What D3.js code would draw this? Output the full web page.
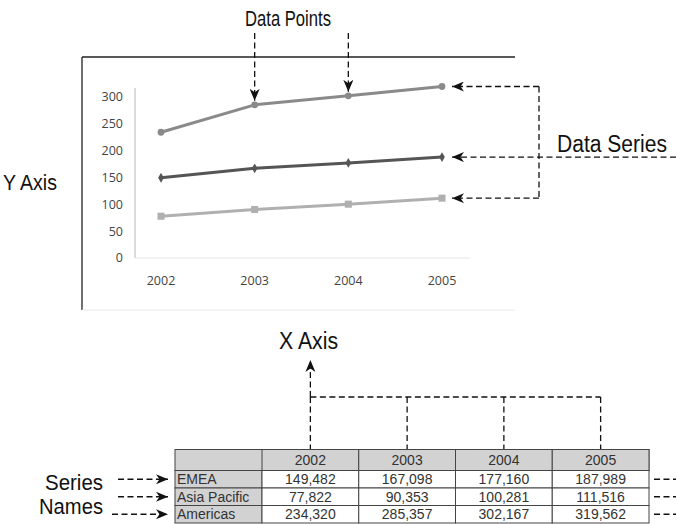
<!DOCTYPE html>
<meta charset="utf-8">
<head>
  <title>Chart parts</title>
</head>
<style>
body { margin: 0; background: #fff; }
.note { font-family: "Liberation Sans", Arial, sans-serif; font-size: 20px; fill: #111; }
.tick-lbl { font-family: "Open Sans", sans-serif; font-size: 12.5px; fill: #444; }
.cell { font-family: "Liberation Sans", Arial, sans-serif; font-size: 14px; fill: #333; }
.dash { fill: none; stroke: #111; stroke-width: 1.3px; stroke-dasharray: 6,3.5; }
</style>
<body>
<script src="https://cdnjs.cloudflare.com/ajax/libs/d3/7.8.5/d3.min.js"></script>
<script>
// data, thousands in the chart, full numbers in the table
var years = [2002, 2003, 2004, 2005]
var seriesNames = ["EMEA", "Asia Pacific", "Americas"]
var emea = [149482, 167098, 177160, 187989]
var asiaPacific = [77822, 90353, 100281, 111516]
var americas = [234320, 285357, 302167, 319562]
var yTicks = [0, 50, 100, 150, 200, 250, 300]

var seriesValues = [emea, asiaPacific, americas]
var seriesStyle = [
  {color: "#555", marker: "diamond", size: 28},
  {color: "#b0b0b0", marker: "square", size: 50},
  {color: "#8a8a8a", marker: "circle", size: 36}
]

var width = 676, height = 524

var svg = d3.select("body").append("svg")
    .attr("width", width)
    .attr("height", height)

var defs = svg.append("defs")
defs.append("marker")
    .attr("id", "arr")
    .attr("markerUnits", "userSpaceOnUse")
    .attr("viewBox", "0 0 12 10")
    .attr("markerWidth", 12)
    .attr("markerHeight", 10)
    .attr("refX", 12)
    .attr("refY", 5)
    .attr("orient", "auto")
  .append("path")
    .attr("d", "M0,0 L12,5 L0,10 L3.5,5 Z")
    .attr("fill", "#111")

// condensed look: the narrow face is not installed, so squeeze to the measured width
function note(g, txt, x0, y0, w, fs) {
  return g.append("text").attr("class", "note")
      .attr("x", x0).attr("y", y0)
      .style("font-size", fs + "px")
      .attr("textLength", w)
      .attr("lengthAdjust", "spacingAndGlyphs")
      .text(txt)
}

// ---- chart box ----
var box = svg.append("g")
box.append("line").attr("x1", 82).attr("x2", 515).attr("y1", 57).attr("y2", 57)
    .attr("stroke", "#222").attr("stroke-width", 1.3)
box.append("line").attr("x1", 82).attr("x2", 82).attr("y1", 57).attr("y2", 310)
    .attr("stroke", "#222").attr("stroke-width", 1.3)
box.append("line").attr("x1", 82).attr("x2", 515).attr("y1", 310).attr("y2", 310)
    .attr("stroke", "#e8e8e8").attr("stroke-width", 1)

var x = d3.scalePoint().domain(years).range([161, 442])
var y = d3.scaleLinear().domain([0, 300]).range([258, 97])

var chart = svg.append("g")

chart.append("line").attr("x1", 135).attr("x2", 135).attr("y1", 88).attr("y2", y(0))
    .attr("stroke", "#cfcfcf").attr("stroke-width", 1.5)
chart.append("line").attr("x1", 135).attr("x2", 470).attr("y1", y(0)).attr("y2", y(0))
    .attr("stroke", "#e6e6e6").attr("stroke-width", 1)

chart.selectAll(".ylbl")
    .data(yTicks)
  .enter().append("text")
    .attr("class", "tick-lbl")
    .attr("x", 123)
    .attr("y", function(d) { return y(d) })
    .attr("dy", "0.35em")
    .attr("text-anchor", "end")
    .text(function(d) { return d })

chart.selectAll(".xlbl")
    .data(years)
  .enter().append("text")
    .attr("class", "tick-lbl")
    .attr("x", function(d) { return x(d) })
    .attr("y", 281)
    .attr("dy", "0.35em")
    .attr("text-anchor", "middle")
    .text(function(d) { return d })

var line = d3.line()
    .x(function(d, i) { return x(years[i]) })
    .y(function(d) { return y(d / 1000) })

var symbolType = {diamond: d3.symbolDiamond, square: d3.symbolSquare, circle: d3.symbolCircle}

seriesValues.forEach(function(vals, s) {
  var st = seriesStyle[s]
  chart.append("path")
      .datum(vals)
      .attr("d", line)
      .attr("fill", "none")
      .attr("stroke", st.color)
      .attr("stroke-width", 3)
      .attr("stroke-linejoin", "round")
  chart.selectAll(".pt" + s)
      .data(vals)
    .enter().append("path")
      .attr("transform", function(d, i) { return "translate(" + x(years[i]) + "," + y(d / 1000) + ")" })
      .attr("d", d3.symbol().type(symbolType[st.marker]).size(st.size))
      .attr("fill", st.color)
})

// ---- annotations ----
var notes = svg.append("g")

note(notes, "Data Points", 245, 26, 86, 21.5)
;[1, 2].forEach(function(i) {
  notes.append("line").attr("class", "dash")
      .attr("x1", x(years[i])).attr("x2", x(years[i]))
      .attr("y1", 33).attr("y2", y(americas[i] / 1000) - 4)
      .attr("marker-end", "url(#arr)")
})

note(notes, "Y Axis", 3, 190, 54, 22)

note(notes, "Data Series", 557, 152, 110, 23)
var lastY = seriesValues.map(function(v) { return y(v[v.length - 1] / 1000) })
var tipX = x(2005) + 10
notes.append("line").attr("class", "dash")
    .attr("x1", 539).attr("x2", 539).attr("y1", d3.min(lastY)).attr("y2", d3.max(lastY))
seriesValues.forEach(function(v, s) {
  notes.append("line").attr("class", "dash")
      .attr("x1", s == 0 ? 676 : 539).attr("x2", tipX)
      .attr("y1", lastY[s]).attr("y2", lastY[s])
      .attr("marker-end", "url(#arr)")
})

// ---- table ----
var colX = d3.scaleBand().domain(years).range([262, 649])
var rowY = d3.scaleBand().domain(seriesNames).range([470.5, 523])
var tableLeft = 175, headTop = 449.5
var midX = function(d) { return colX(d) + colX.bandwidth() / 2 }

note(notes, "X Axis", 279, 349, 59, 23)
notes.append("line").attr("class", "dash")
    .attr("x1", midX(2002)).attr("x2", midX(2002)).attr("y1", 397).attr("y2", 360)
    .attr("marker-end", "url(#arr)")
notes.append("line").attr("class", "dash")
    .attr("x1", midX(2002)).attr("x2", midX(2005)).attr("y1", 397).attr("y2", 397)
years.forEach(function(yr) {
  notes.append("line").attr("class", "dash")
      .attr("x1", midX(yr)).attr("x2", midX(yr)).attr("y1", 397).attr("y2", headTop)
})

var table = svg.append("g")
var gray = "#d2d2d2", border = "#444"

// header
table.append("rect").attr("x", tableLeft).attr("y", headTop)
    .attr("width", colX.range()[1] - tableLeft).attr("height", rowY.range()[0] - headTop)
    .attr("fill", gray).attr("stroke", border)
years.forEach(function(yr) {
  table.append("rect").attr("x", colX(yr)).attr("y", headTop)
      .attr("width", colX.bandwidth()).attr("height", rowY.range()[0] - headTop)
      .attr("fill", gray).attr("stroke", border)
  table.append("text").attr("class", "cell")
      .attr("x", midX(yr)).attr("y", (headTop + rowY.range()[0]) / 2).attr("dy", "0.36em")
      .attr("text-anchor", "middle").text(yr)
})

var fmt = d3.format(",")
seriesNames.forEach(function(name, s) {
  var ry = rowY(name)
  table.append("rect").attr("x", tableLeft).attr("y", ry)
      .attr("width", colX.range()[0] - tableLeft).attr("height", rowY.bandwidth())
      .attr("fill", gray).attr("stroke", border)
  table.append("text").attr("class", "cell")
      .attr("x", tableLeft + 2).attr("y", ry + rowY.bandwidth() / 2).attr("dy", "0.36em")
      .text(name)
  seriesValues[s].forEach(function(v, i) {
    table.append("rect").attr("x", colX(years[i])).attr("y", ry)
        .attr("width", colX.bandwidth()).attr("height", rowY.bandwidth())
        .attr("fill", "#fff").attr("stroke", border)
    table.append("text").attr("class", "cell")
        .attr("x", midX(years[i])).attr("y", ry + rowY.bandwidth() / 2).attr("dy", "0.36em")
        .attr("text-anchor", "middle").text(fmt(v))
  })
  // pointers on both sides of the row
  var cy = ry + rowY.bandwidth() / 2
  notes.append("line").attr("class", "dash")
      .attr("x1", s == 2 ? 112 : 118).attr("x2", 168).attr("y1", cy).attr("y2", cy)
      .attr("marker-end", "url(#arr)")
  notes.append("line").attr("class", "dash")
      .attr("x1", 654).attr("x2", 676).attr("y1", cy).attr("y2", cy)
})

note(notes, "Series", 45, 490, 58, 22)
note(notes, "Names", 39, 514, 64, 22)

</script>
</body>
</html>
